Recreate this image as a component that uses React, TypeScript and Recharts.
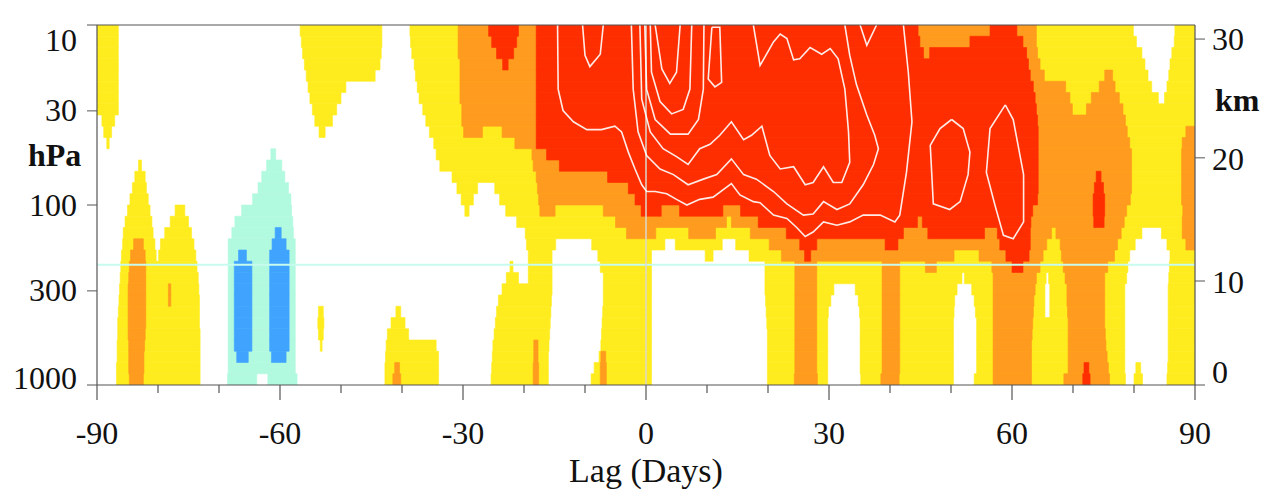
import {
  ComposedChart,
  XAxis,
  YAxis,
  ReferenceArea,
  ReferenceLine,
  Line,
  Label,
} from "recharts";

// lag axis (days) and the two vertical scales
const lagTicks = [-90, -80, -70, -60, -50, -40, -30, -20, -10, 0, 10, 20, 30, 40, 50, 60, 70, 80, 90];
const pressureTicks = [10, 30, 100, 300, 1000];
const kmTicks = [0, 10, 20, 30];
const kmPressure = [1000, 264.4, 54.7, 11.97];
const tropopauseHPa = 215;

// log-pressure height, 0 at 1000 hPa, 32 at 10 hPa
const zOf = (p: number) => 16 * Math.log10(1000 / p);

// shaded levels: one entry per 1-unit height band, top band (z 31-32) first.
// each band lists [fromLag, toLag] spans where the field exceeds the level
const yellowRows = [
  [[-90, -86.5], [-56.7, -43.3], [-38.7, 79.9], [86.7, 90]],
  [[-90, -86.5], [-56.5, -43.3], [-38.6, 80.4], [86.6, 90]],
  [[-90, -86.5], [-56.3, -43.4], [-38.4, 81.3], [86.2, 90]],
  [[-90, -86.5], [-56.0, -43.6], [-38.0, 81.8], [85.9, 90]],
  [[-90, -86.5], [-55.7, -44.4], [-37.8, 82.3], [85.7, 90]],
  [[-90, -86.5], [-55.4, -49.2], [-37.5, 82.9], [85.4, 90]],
  [[-90, -86.5], [-55.1, -50.0], [-37.2, 84.0], [85.0, 90]],
  [[-90, -86.5], [-54.7, -50.7], [-36.6, 90]],
  [[-89.2, -87.1], [-54.3, -51.4], [-36.1, 90]],
  [[-88.9, -87.6], [-53.6, -52.6], [-35.5, 90]],
  [[-88.4, -88.0], [-34.8, 90]],
  [[-34.4, 90]],
  [[-83.2, -82.7], [-33.8, 90]],
  [[-83.8, -82.1], [-31.8, 90]],
  [[-84.2, -81.9], [-31.0, -27.6], [-24.8, 90]],
  [[-84.6, -81.6], [-30.3, -28.3], [-24.0, 90]],
  [[-85.0, -81.3], [-77.2, -75.6], [-29.7, -29.0], [-23.0, 90]],
  [[-85.4, -81.0], [-78.0, -75.0], [-21.2, 90]],
  [[-85.7, -80.8], [-78.9, -74.5], [-19.8, 81.3], [84.5, 90]],
  [[-85.8, -80.5], [-79.6, -74.1], [-19.6, -14.8], [-8.9, 3.1], [4.8, 12.5], [14.7, 80.2], [85.4, 90]],
  [[-86.0, -80.3], [-79.9, -73.8], [-19.3, -15.4], [-7.9, 0.9], [9.7, 11.0], [16.9, 79.3], [85.9, 90]],
  [[-86.1, -73.6], [-22.3, -21.8], [-19.3, -15.4], [-7.5, 0.9], [19.5, 79.0], [85.8, 90]],
  [[-86.2, -73.4], [-22.9, -20.9], [-19.3, -15.4], [-7.0, 0.9], [19.5, 51.8], [52.2, 65.6], [66.0, 78.8], [85.7, 90]],
  [[-86.3, -73.3], [-23.6, -15.4], [-7.0, 0.9], [19.5, 30.8], [34.3, 51.0], [53.4, 65.4], [66.2, 78.5], [85.6, 90]],
  [[-86.4, -73.2], [-24.2, -15.5], [-7.0, 0.9], [19.6, 30.3], [34.8, 50.6], [53.8, 65.4], [66.2, 78.5], [85.6, 90]],
  [[-86.5, -73.2], [-53.7, -52.9], [-41.0, -40.2], [-24.5, -15.6], [-7.1, 0.9], [19.7, 29.9], [35.0, 50.5], [54.0, 65.4], [66.2, 78.5], [85.6, 90]],
  [[-86.6, -73.2], [-53.8, -52.8], [-41.8, -39.5], [-24.7, -15.7], [-7.2, 0.9], [19.8, 29.8], [35.1, 50.4], [54.2, 78.5], [85.6, 90]],
  [[-86.6, -73.1], [-53.7, -52.9], [-42.4, -38.9], [-24.9, -15.8], [-7.3, 0.9], [19.9, 29.8], [35.1, 50.4], [54.2, 78.5], [85.6, 90]],
  [[-86.7, -73.1], [-53.4, -53.1], [-42.6, -34.4], [-25.1, -15.9], [-7.4, 0.9], [19.9, 29.8], [35.1, 50.4], [54.2, 78.5], [85.6, 90]],
  [[-86.7, -73.1], [-42.7, -34.0], [-25.2, -16.0], [-7.7, 0.9], [19.9, 29.8], [35.1, 50.4], [54.2, 78.5], [85.6, 90]],
  [[-86.8, -73.1], [-42.8, -34.0], [-25.3, -16.0], [-8.5, 0.9], [19.9, 29.8], [35.1, 50.4], [54.2, 78.5], [80.3, 81.1], [85.5, 90]],
  [[-86.8, -73.1], [-42.8, -34.0], [-25.4, -16.0], [-9.0, 0.9], [19.9, 29.8], [35.2, 50.4], [53.8, 78.6], [80.0, 81.4], [85.4, 90]],
];

const orangeRows = [
  [[-30.8, 64.0]],
  [[-30.8, 64.0]],
  [[-30.8, 64.2]],
  [[-30.5, 64.6]],
  [[-30.5, 65.3], [75.2, 76.5]],
  [[-30.5, 68.8], [74.3, 76.9]],
  [[-30.5, 69.5], [73.0, 77.6]],
  [[-30.2, 69.9], [72.2, 78.2]],
  [[-30.2, 78.6]],
  [[-29.9, -26.8], [-23.6, 78.9], [88.5, 90]],
  [[-21.5, 79.3], [87.9, 90]],
  [[-18.7, 79.6], [87.8, 90]],
  [[-18.5, 79.6], [87.8, 90]],
  [[-18.0, 79.6], [87.8, 90]],
  [[-17.8, 79.6], [87.8, 90]],
  [[-17.6, 79.4], [87.8, 90]],
  [[-17.4, -14.9], [-7.0, 78.8], [88.0, 90]],
  [[-5.0, 13.2], [14.0, 78.4], [87.9, 90]],
  [[-3.2, 1.6], [7.0, 11.4], [17.1, 66.5], [67.2, 77.9], [87.9, 90]],
  [[-84.0, -82.4], [20.2, 65.7], [67.9, 77.3], [88.5, 90]],
  [[-84.5, -82.1], [22.2, 50.5], [54.6, 65.1], [68.1, 76.8]],
  [[-84.7, -82.0], [24.4, 28.0], [38.7, 41.6], [45.8, 47.6], [56.7, 64.6], [68.4, 75.7]],
  [[-84.8, -82.0], [24.4, 28.0], [38.7, 41.6], [56.9, 64.0], [68.7, 75.2]],
  [[-84.9, -82.0], [-78.3, -77.9], [24.4, 28.0], [38.7, 41.6], [56.9, 63.8], [69.0, 75.2]],
  [[-84.9, -82.0], [-78.3, -77.9], [24.4, 28.0], [38.7, 41.6], [56.9, 63.6], [69.0, 75.2]],
  [[-84.9, -82.0], [24.4, 28.0], [38.7, 41.6], [56.9, 63.5], [69.1, 75.2]],
  [[-84.9, -82.0], [24.4, 28.0], [38.7, 41.6], [56.9, 63.4], [69.2, 75.2]],
  [[-84.9, -82.1], [24.4, 28.0], [38.7, 41.6], [56.9, 63.3], [69.2, 75.3]],
  [[-84.8, -82.2], [-18.4, -17.7], [24.4, 28.0], [38.7, 41.6], [56.9, 63.2], [69.2, 75.4]],
  [[-84.8, -82.3], [-18.4, -17.7], [-7.4, -6.6], [24.4, 28.0], [38.7, 41.6], [56.9, 63.2], [69.2, 75.6]],
  [[-84.8, -82.3], [-41.2, -40.4], [-18.5, -17.6], [-7.5, -6.5], [24.4, 28.0], [38.7, 41.6], [56.9, 63.2], [69.2, 75.8]],
  [[-84.7, -82.4], [-41.5, -40.2], [-18.5, -17.6], [-7.5, -6.5], [24.3, 28.1], [38.5, 41.5], [56.9, 63.2], [68.5, 76.0]],
];

const redRows = [
  [[-25.8, -20.9], [-18.0, 44.6], [56.4, 60.8]],
  [[-25.3, -21.2], [-18.0, 44.9], [53.1, 61.8]],
  [[-24.5, -21.7], [-18.0, 45.5], [46.5, 62.4]],
  [[-23.5, -22.6], [-18.0, 62.7]],
  [[-18.0, 63.0]],
  [[-18.0, 63.5]],
  [[-18.0, 63.8]],
  [[-18.0, 64.0]],
  [[-18.0, 64.2]],
  [[-18.0, 64.3]],
  [[-18.0, 64.3]],
  [[-16.3, 64.3]],
  [[-14.2, 64.3]],
  [[-6.3, 64.3], [73.8, 74.6]],
  [[-2.9, 64.3], [73.5, 75.0]],
  [[-1.8, 64.2], [73.3, 75.2]],
  [[-0.8, 2.5], [5.5, 12.6], [15.5, 63.4], [73.3, 75.2]],
  [[18.4, 44.5], [45.3, 63.1], [73.4, 75.1]],
  [[23.0, 42.2], [46.2, 55.5], [57.6, 63.0]],
  [[25.2, 28.0], [39.2, 41.3], [58.0, 63.0]],
  [[26.0, 27.0], [59.0, 62.8]],
  [[60.0, 61.8]],
  [], [], [], [], [], [], [], [],
  [[71.8, 72.6]],
  [[71.6, 72.8]],
];

const mintRows = [
  [], [], [], [], [], [], [], [], [], [], [],
  [[-61.5, -60.7]],
  [[-62.2, -59.7]],
  [[-63.0, -59.2]],
  [[-63.6, -58.6]],
  [[-64.5, -58.2]],
  [[-66.3, -58.1]],
  [[-67.4, -57.9]],
  [[-67.9, -57.8]],
  [[-68.5, -57.5]],
  [[-68.5, -57.5]],
  [[-68.5, -57.5]],
  [[-68.5, -57.5]],
  [[-68.5, -57.5]],
  [[-68.5, -57.5]],
  [[-68.5, -57.5]],
  [[-68.5, -57.5]],
  [[-68.5, -57.5]],
  [[-68.5, -57.5]],
  [[-68.5, -57.5]],
  [[-68.5, -57.5]],
  [[-68.6, -63.8], [-62.0, -57.2]],
];

const blueRows = [
  [], [], [], [], [], [], [], [], [], [], [], [], [], [], [], [], [], [],
  [[-60.8, -59.8]],
  [[-61.3, -59.0]],
  [[-66.8, -65.5], [-61.7, -58.5]],
  [[-67.5, -64.6], [-61.7, -58.5]],
  [[-67.5, -64.6], [-61.7, -58.5]],
  [[-67.5, -64.6], [-61.7, -58.5]],
  [[-67.5, -64.6], [-61.7, -58.5]],
  [[-67.5, -64.6], [-61.7, -58.5]],
  [[-67.5, -64.6], [-61.7, -58.5]],
  [[-67.5, -64.6], [-61.7, -58.5]],
  [[-67.5, -64.6], [-61.7, -58.5]],
  [[-67.1, -65.2], [-61.4, -59.0]],
  [],
  [],
];

// white contour lines, [lag, z] points
const contourLines = [
  [[-10.4, 32], [-10.0, 29.3], [-9.2, 28.3], [-7.5, 29.4], [-7.0, 32]],
  [[-14.5, 32], [-14.4, 26.3], [-13.6, 24.4], [-11.9, 23.4], [-9.7, 22.7], [-7.3, 22.7], [-5.1, 23.0], [-4.0, 22.5], [-2.9, 20.7], [-1.8, 19.2], [-0.7, 17.8], [0.1, 17.2], [1.5, 17.2], [3.4, 17.0], [5.0, 16.5], [6.7, 16.0], [8.8, 16.5], [11.0, 16.7], [14.0, 17.9], [15.4, 16.9], [17.6, 16.3], [18.7, 16.2], [20.9, 15.1], [23.1, 14.8], [24.7, 14.0], [26.1, 13.2], [27.4, 13.6], [29.1, 14.5], [31.3, 14.2], [33.4, 14.5], [35.6, 15.1], [38.4, 15.1], [40.8, 14.5], [41.6, 15.1], [42.7, 18.9], [43.6, 23.4], [43.0, 27.8], [42.2, 32]],
  [[-2.4, 32], [-2.1, 26.3], [-1.3, 22.5], [0.1, 20.4], [2.3, 19.2], [4.5, 18.7], [6.9, 17.8], [9.4, 18.3], [11.6, 18.7], [14.0, 20.1], [16.0, 18.7], [18.1, 18.3], [20.9, 17.2], [23.1, 16.1], [25.8, 15.1], [27.4, 15.2], [29.1, 16.3], [31.3, 15.6], [33.4, 16.1], [35.6, 17.8], [37.3, 19.6], [38.1, 21.0], [37.5, 22.2], [36.2, 24.0], [34.5, 26.7], [33.4, 29.3], [32.6, 32]],
  [[-1.0, 32], [-0.7, 25.4], [0.7, 22.5], [2.8, 21.0], [5.0, 20.3], [6.9, 19.6], [8.8, 21.0], [10.5, 21.4], [12.1, 22.2], [14.0, 23.4], [16.0, 21.8], [17.3, 22.2], [19.0, 23.0], [20.3, 20.4], [22.0, 19.2], [24.2, 19.4], [26.1, 17.8], [27.4, 18.0], [29.1, 19.4], [30.7, 18.0], [32.1, 18.0], [33.4, 19.8], [33.2, 22.5], [32.6, 26.3], [31.5, 29.0], [30.2, 29.9], [28.8, 29.4], [26.9, 30.0], [25.2, 29.0], [24.2, 28.9], [23.1, 30.8], [22.0, 31.2], [20.9, 30.5], [18.7, 28.4], [17.6, 32]],
  [[1.5, 32], [2.6, 28.1], [3.9, 26.8], [5.0, 27.8], [5.6, 32]],
  [[0.7, 32], [0.9, 27.8], [2.3, 25.2], [4.2, 24.1], [6.1, 24.5], [7.2, 26.3], [7.5, 32]],
  [[-0.2, 32], [0.1, 26.3], [1.5, 23.6], [4.0, 22.3], [6.9, 22.3], [8.6, 23.6], [9.4, 26.3], [9.5, 32]],
  [[10.8, 31.8], [10.2, 27.2], [11.3, 26.5], [12.4, 26.9], [12.1, 31.8], [10.8, 31.8]],
  [[35.1, 32], [36.2, 30.2], [37.8, 32]],
  [[50.1, 23.6], [52.0, 22.8], [53.1, 20.7], [52.8, 18.7], [51.5, 16.3], [49.8, 15.6], [47.1, 16.1], [46.6, 21.3], [48.2, 22.8], [50.1, 23.6]],
  [[58.9, 24.9], [60.2, 23.6], [61.9, 18.7], [61.9, 14.5], [60.2, 13.0], [58.6, 13.3], [57.2, 16.0], [55.8, 18.9], [56.4, 22.8], [58.9, 24.9]],
];

const TOP_Z = 32;
const FONT = "'Liberation Serif', 'DejaVu Serif', serif";
const AXIS = "#555";
const TEXT = "#111";

const levels = [
  { rows: yellowRows, fill: "#FFEC1E" },
  { rows: orangeRows, fill: "#FF9B1E" },
  { rows: redRows, fill: "#FF2E00" },
  { rows: mintRows, fill: "#B2FADF" },
  { rows: blueRows, fill: "#40A4FF" },
];

const areas = levels.flatMap((lv, li) =>
  lv.rows.flatMap((spans, i) =>
    spans.map(([a, b], j) => ({
      key: `a-${li}-${i}-${j}`,
      x1: a,
      x2: b,
      y1: TOP_Z - i - 1,
      y2: TOP_Z - i,
      fill: lv.fill,
    }))
  )
);

const pressureZ = pressureTicks.map(zOf);
const kmZ = kmPressure.map(zOf);

const PressureTick = ({ x, y, payload }: any) => {
  const idx = pressureZ.findIndex((v) => Math.abs(v - payload.value) < 1e-6);
  const p = pressureTicks[idx];
  let dy = 10.5;
  if (p === 10) dy = 25.5;
  if (p === 1000) dy = 3.5;
  return (
    <text x={x} y={y + dy} textAnchor="end" fontSize={32} fontFamily={FONT} fill={TEXT}>
      {p}
    </text>
  );
};

const KmTick = ({ x, y, payload }: any) => {
  const idx = kmZ.findIndex((v) => Math.abs(v - payload.value) < 1e-6);
  const km = kmTicks[idx];
  let dy = 12;
  if (km === 0) dy = -2.5;
  if (km === 30) dy = 11;
  return (
    <text x={x} y={y + dy} textAnchor="start" fontSize={32} fontFamily={FONT} fill={TEXT}>
      {km}
    </text>
  );
};

const LAG_MARGIN = 59;
const LagTick = ({ x, y, payload }: any) => {
  const v = payload.value;
  const major = v % 30 === 0;
  const axisY = y - LAG_MARGIN;
  return (
    <g>
      <line x1={x} x2={x} y1={axisY} y2={axisY + (major ? 15 : 8)} stroke={AXIS} strokeWidth={1.2} />
      {major && (
        <text x={x} y={y} textAnchor="middle" fontSize={32} fontFamily={FONT} fill={TEXT}>
          {v}
        </text>
      )}
    </g>
  );
};

export default function App() {
  return (
    <>
      <style>{"body{margin:0}"}</style>
      <ComposedChart width={1269} height={489} margin={{ top: 17, right: 14, bottom: 6, left: 17 }}>
        <XAxis
          type="number"
          dataKey="lag"
          domain={[-90, 90]}
          ticks={lagTicks}
          interval={0}
          allowDataOverflow
          height={98}
          tickSize={0}
          tickMargin={LAG_MARGIN}
          tickLine={false}
          tick={<LagTick />}
          axisLine={{ stroke: AXIS, strokeWidth: 1.2 }}
        >
          <Label value="Lag (Days)" position="insideBottom" offset={1.5} fontSize={34} fontFamily={FONT} fill={TEXT} />
        </XAxis>
        <XAxis
          xAxisId="top"
          orientation="top"
          type="number"
          domain={[-90, 90]}
          ticks={lagTicks}
          interval={0}
          allowDataOverflow
          height={8}
          tickSize={7}
          tick={false}
          axisLine={{ stroke: AXIS, strokeWidth: 1.2 }}
          tickLine={{ stroke: AXIS }}
        />
        <YAxis
          yAxisId="left"
          type="number"
          dataKey="z"
          domain={[0, TOP_Z]}
          ticks={pressureZ}
          interval={0}
          allowDataOverflow
          width={80}
          tickSize={10}
          tickMargin={10}
          tick={<PressureTick />}
          axisLine={{ stroke: AXIS, strokeWidth: 1.2 }}
          tickLine={{ stroke: AXIS }}
        >
          <Label value="hPa" position="insideLeft" offset={11} dy={-50} fontSize={32} fontWeight="bold" fontFamily={FONT} fill={TEXT} />
        </YAxis>
        <YAxis
          yAxisId="right"
          orientation="right"
          type="number"
          domain={[0, TOP_Z]}
          ticks={kmZ}
          interval={0}
          allowDataOverflow
          width={60}
          tickSize={10}
          tickMargin={7}
          tick={<KmTick />}
          axisLine={{ stroke: AXIS, strokeWidth: 1.2 }}
          tickLine={{ stroke: AXIS }}
        >
          <Label value="km" position="insideLeft" offset={20} dy={-105} fontSize={32} fontWeight="bold" fontFamily={FONT} fill={TEXT} />
        </YAxis>

        {areas.map((a) => (
          <ReferenceArea
            key={a.key}
            yAxisId="left"
            x1={a.x1}
            x2={a.x2}
            y1={a.y1}
            y2={a.y2}
            fill={a.fill}
            fillOpacity={1}
            stroke={a.fill}
            strokeWidth={0.6}
            ifOverflow="hidden"
          />
        ))}

        <ReferenceLine yAxisId="left" y={zOf(tropopauseHPa)} stroke="#c6fbee" strokeWidth={2} />
        <ReferenceLine yAxisId="left" x={0} stroke="#dcd8cc" strokeWidth={1.5} />

        {contourLines.map((pts, i) => (
          <Line
            key={`c-${i}`}
            yAxisId="left"
            data={pts.map(([lag, z]) => ({ lag, z }))}
            dataKey="z"
            type="linear"
            stroke="#ffffff"
            strokeWidth={1.6}
            strokeOpacity={0.9}
            dot={false}
            activeDot={false}
            isAnimationActive={false}
          />
        ))}
      </ComposedChart>
    </>
  );
}
